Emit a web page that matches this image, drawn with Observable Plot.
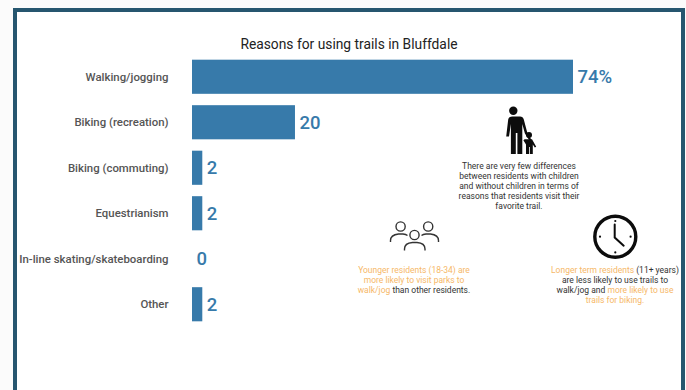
<!DOCTYPE html>
<html>
<head>
<meta charset="utf-8">
<script src="https://cdn.jsdelivr.net/npm/d3@7"></script>
<script src="https://cdn.jsdelivr.net/npm/@observablehq/plot@0.6"></script>
<style>
  html, body { margin: 0; padding: 0; background: #fbfbfb; overflow: hidden; }
  #page { position: relative; width: 686px; height: 390px; overflow: hidden; font-family: Roboto, sans-serif; }
  #panel { position: absolute; left: 13px; top: 8px; width: 664px; height: 400px; background: #fff; border: 4px solid #26566f; }
  #chart { position: absolute; left: 0; top: 0; }
  #chart svg { background: transparent; }
  #icons { position: absolute; left: 0; top: 0; }
  .title { position: absolute; left: 149px; width: 400px; top: 36px; text-align: center; font-size: 13.8px; line-height: 17px; color: #222; }
  .note { position: absolute; width: 170px; text-align: center; font-size: 8.5px; line-height: 10.2px; color: #333; }
  .note b { font-weight: 400; color: #f6b868; }
</style>
</head>
<body>
<div id="page">
  <div id="panel"></div>
  <div id="chart"></div>
  <svg id="icons" width="686" height="390" viewBox="0 0 686 390">
    <!-- adult and child holding hands -->
    <g fill="#0c0c0c">
      <circle cx="513.3" cy="110.7" r="4.2"/>
      <path d="M506.5 116.5h13.5q3 0 3.8 3l3.3 12.5 6 11-1.4 1-6.8-10.4-2.6-9.6v30h-4.9v-21h-1.6v21h-4.9v-30l-1.9 12.5h-2.8l2-17q.4-3 4.3-3z"/>
      <circle cx="529" cy="135" r="3"/>
      <path d="M525.5 139.2h6.5l4.2 7.5-1.4.9-2-3v9.4h-3v-7h-.8v7h-3v-9.6l-2.6-4.2 1.2-1z"/>
    </g>
    <!-- three residents, outlined -->
    <g fill="none" stroke="#333" stroke-width="1.4">
      <circle cx="400.6" cy="226.5" r="4.6"/>
      <circle cx="428.2" cy="226.5" r="4.6"/>
      <circle cx="414.5" cy="235" r="4.6"/>
      <path d="M390.5 242v-1.5q0-5.5 8-6.5h4.5q3 .3 4.5 1.5"/>
      <path d="M438.5 242v-1.5q0-5.5-8-6.5H426q-3 .3-4.5 1.5"/>
      <path d="M404.5 250.5V249q0-6 8-6.5h4.5q8 .5 8 6.5v1.5"/>
    </g>
    <!-- clock face -->
    <g fill="none" stroke="#0c0c0c">
      <circle cx="615.3" cy="236.7" r="20.5" stroke-width="3.4"/>
      <path d="M614.7 224.5v13l9 8.2" stroke-width="2" stroke-linecap="round"/>
    </g>
    <g fill="#0c0c0c">
      <circle cx="615.3" cy="221" r="1.1"/>
      <circle cx="615.3" cy="252.4" r="1.1"/>
      <circle cx="600" cy="236.7" r="1.1"/>
      <circle cx="630.6" cy="236.7" r="1.1"/>
    </g>
  </svg>
  <div class="title">Reasons for using trails in Bluffdale</div>
  <div class="note" style="left:434px;top:160.5px">There are very few differences<br>between residents with children<br>and without children in terms of<br>reasons that residents visit their<br>favorite trail.</div>
  <div class="note" style="left:329px;top:264.5px"><b>Younger residents (18-34) are</b><br><b>more likely to visit parks to</b><br><b>walk/jog</b> than other residents.</div>
  <div class="note" style="left:530px;top:264.5px"><b>Longer term residents</b> (11+ years)<br>are less likely to use trails to<br>walk/jog and <b>more likely to use</b><br><b>trails for biking.</b></div>
</div>
<script>
// Share of residents giving each reason for using the trails, in percent
const reasons = [
  "Walking/jogging",
  "Biking (recreation)",
  "Biking (commuting)",
  "Equestrianism",
  "In-line skating/skateboarding",
  "Other"
];
const shares = [74, 20, 2, 2, 0, 2];
const valueLabels = ["74%", "20", "2", "2", "0", "2"];

const rows = reasons.map((reason, i) => ({reason, share: shares[i], label: valueLabels[i]}));

const barBlue = "#377aaa";

const plot = Plot.plot({
  width: 686,
  height: 390,
  marginLeft: 192,
  marginRight: 113,
  marginTop: 54,
  marginBottom: 63,
  style: {background: "transparent", fontFamily: "Roboto, sans-serif"},
  x: {domain: [0, 74], axis: null},
  y: {domain: reasons, paddingInner: 0.25, paddingOuter: 0.125, round: false, label: null},
  marks: [
    Plot.axisY({
      tickSize: 0,
      tickPadding: 24,
      fontSize: 11.4,
      fontWeight: 500,
      color: "#555",
      label: null
    }),
    Plot.barX(rows, {x: "share", y: "reason", fill: barBlue}),
    Plot.text(rows, {
      x: "share",
      y: "reason",
      text: "label",
      textAnchor: "start",
      dx: 4,
      fontSize: 18.5,
      fontWeight: 500,
      fill: barBlue
    })
  ]
});

document.getElementById("chart").append(plot);
</script>
</body>
</html>
